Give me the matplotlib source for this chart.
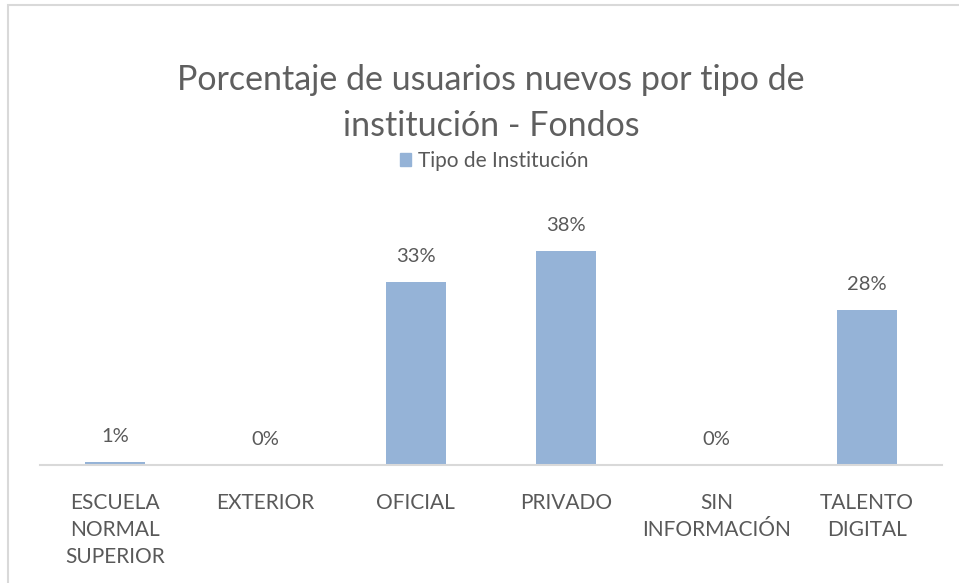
import matplotlib as mpl
mpl.use('Agg')
import matplotlib.pyplot as plt
from matplotlib.patches import Rectangle, Patch
import numpy as np

plt.rcParams['font.family'] = ['Lato', 'DejaVu Sans']

categorias = ['ESCUELA\nNORMAL\nSUPERIOR', 'EXTERIOR', 'OFICIAL', 'PRIVADO', 'SIN\nINFORMACIÓN', 'TALENTO\nDIGITAL']
valores = [0.6, 0.0, 32.7, 38.2, 0.0, 27.7]
etiquetas = ['1%', '0%', '33%', '38%', '0%', '28%']
serie = 'Tipo de Institución'
titulo = 'Porcentaje de usuarios nuevos por tipo de\ninstitución - Fondos'

W, H = 959, 583
fig = plt.figure(figsize=(W / 100, H / 100), dpi=100)
ax = fig.add_axes([40 / W, (H - 465) / H, (942 - 40) / W, (465 - 213) / H])

color_barra = '#95B3D7'
texto = '#595959'
x = np.arange(len(categorias))
ax.bar(x, valores, width=0.4, color=color_barra)
for xi, v, lab in zip(x, valores, etiquetas):
    ax.annotate(lab, (xi, v), xytext=(0, 12), textcoords='offset points',
                ha='center', va='bottom', fontsize=14.5, color=texto)

ax.set_xlim(-0.5, len(categorias) - 0.5)
ax.set_ylim(0, 45)
ax.set_xticks(x)
ax.set_xticklabels(categorias, fontsize=15, color=texto, linespacing=1.45)
ax.tick_params(axis='x', length=0, pad=20)
ax.set_yticks([])
for s in ['top', 'left', 'right']:
    ax.spines[s].set_visible(False)
ax.spines['bottom'].set_color('#D9D9D9')
ax.spines['bottom'].set_linewidth(1.5)

fig.text(491 / W, 1 - 103 / H, titulo, ha='center', va='center', fontsize=24.5,
         color='#5f5f5f', linespacing=1.5)

fig.legend(handles=[Patch(color=color_barra, label=serie)], loc='center',
           bbox_to_anchor=(494 / W, 1 - 161 / H), frameon=False, fontsize=15,
           handlelength=0.55, handleheight=0.55, handletextpad=0.3, labelcolor=texto)

fig.add_artist(Rectangle((8 / W, -0.05), 1.1, 1 - 5 / H + 0.05, transform=fig.transFigure,
                         fill=False, edgecolor='#D9D9D9', linewidth=1.5))

fig.savefig('out.png', dpi=100)
plt.close()
